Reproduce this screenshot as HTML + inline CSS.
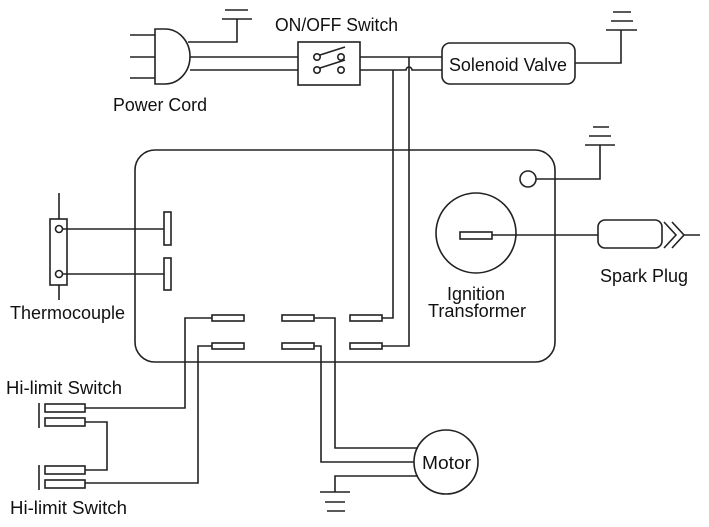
<!DOCTYPE html>
<html><head><style>body{margin:0;background:#fff}svg{display:block}text{font-family:"Liberation Sans",sans-serif;font-size:18px;fill:#111}</style></head>
<body>
<svg width="709" height="527" viewBox="0 0 709 527" fill="none" stroke="#222" stroke-width="1.6">
<!-- plug -->
<path d="M130 35H155M130 57H155M130 78H155"/>
<path d="M155 29H165A25 27.5 0 0 1 165 84H155Z"/>
<path d="M188 42H237V19M222 19H252M225 10H248"/>
<path d="M190 57H298M190 70H298"/>
<rect x="298" y="42" width="62" height="43"/>
<circle cx="317" cy="57" r="3.2"/><circle cx="341" cy="57" r="3.2"/>
<circle cx="317" cy="70" r="3.2"/><circle cx="341" cy="70" r="3.2"/>
<path d="M320 55L345 47M320 68L345 60"/>
<path d="M360 57H442M360 70H406A3 3 0 0 1 412 70H442"/>
<path d="M393 70V318H382M409 57V346H382"/>
<rect x="442" y="43" width="133" height="41" rx="8"/>
<path d="M575 63H621V30M606 30H637M611 21H633M613 12H631"/>
<!-- main box -->
<rect x="135" y="150" width="420" height="212" rx="20"/>
<circle cx="528" cy="179" r="8"/>
<path d="M536 179H600V145M585 145H615M589 136H611M593 127H609"/>
<circle cx="476" cy="233" r="40"/>
<rect x="460" y="232" width="32" height="7"/>
<path d="M492 235H598"/>
<rect x="598" y="220" width="64" height="28" rx="7"/>
<path d="M664 222L676 235L664 248M672 222L684 235L672 248M684 235H700"/>
<!-- thermocouple -->
<path d="M59 193V219M59 285V300"/>
<rect x="50" y="219" width="17" height="66"/>
<circle cx="59" cy="229" r="3.5"/><circle cx="59" cy="274" r="3.5"/>
<path d="M62 229H164M62 274H164"/>
<rect x="164" y="212" width="7" height="33"/><rect x="164" y="258" width="7" height="32"/>
<!-- connectors -->
<rect x="212" y="315" width="32" height="6"/><rect x="212" y="343" width="32" height="6"/>
<rect x="282" y="315" width="32" height="6"/><rect x="282" y="343" width="32" height="6"/>
<rect x="350" y="315" width="32" height="6"/><rect x="350" y="343" width="32" height="6"/>
<path d="M212 318H185V408H85M212 346H198V483H85"/>
<path d="M314 318H335V448H418M314 346H321V462H414M418 476H335V492M320 492H350M325 502H345M327 511H345"/>
<circle cx="446" cy="462" r="32"/>
<!-- hi-limit -->
<rect x="45" y="404" width="40" height="8"/><rect x="45" y="418" width="40" height="8"/>
<path d="M39 403V428M39 465V490"/>
<rect x="45" y="466" width="40" height="8"/><rect x="45" y="480" width="40" height="8"/>
<path d="M85 422H107V470H85"/>
<g stroke="none">
<text x="113" y="111" textLength="94" lengthAdjust="spacingAndGlyphs">Power Cord</text>
<text x="275" y="31" textLength="123" lengthAdjust="spacingAndGlyphs">ON/OFF Switch</text>
<text x="449" y="71" textLength="118" lengthAdjust="spacingAndGlyphs">Solenoid Valve</text>
<text x="447" y="300" textLength="58" lengthAdjust="spacingAndGlyphs">Ignition</text>
<text x="428" y="317" textLength="98" lengthAdjust="spacingAndGlyphs">Transformer</text>
<text x="600" y="282" textLength="88" lengthAdjust="spacingAndGlyphs">Spark Plug</text>
<text x="10" y="319" textLength="115" lengthAdjust="spacingAndGlyphs">Thermocouple</text>
<text x="6" y="394" textLength="116" lengthAdjust="spacingAndGlyphs">Hi-limit Switch</text>
<text x="10" y="514" textLength="117" lengthAdjust="spacingAndGlyphs">Hi-limit Switch</text>
<text x="422" y="469" textLength="49" lengthAdjust="spacingAndGlyphs">Motor</text>
</g>
</svg>
</body></html>
